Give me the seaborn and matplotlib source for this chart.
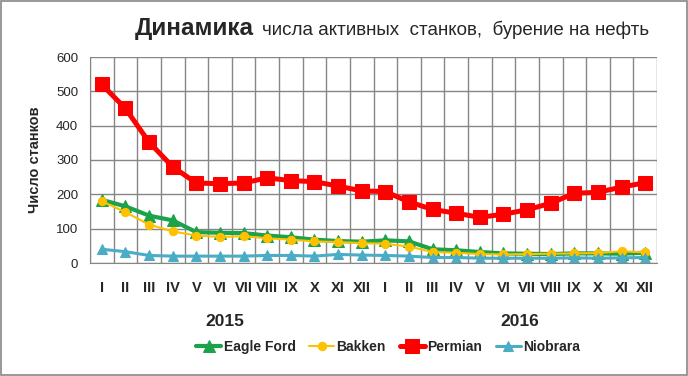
import numpy as np
import pandas as pd
import matplotlib
matplotlib.use('Agg')
import matplotlib.pyplot as plt
import matplotlib.patches as mpatches
import seaborn as sns

months = ['I', 'II', 'III', 'IV', 'V', 'VI', 'VII', 'VIII', 'IX', 'X', 'XI', 'XII',
          'I', 'II', 'III', 'IV', 'V', 'VI', 'VII', 'VIII', 'IX', 'X', 'XI', 'XII']
years = ['2015', '2016']

eagle_ford = [184, 165, 138, 124, 90, 88, 87, 80, 75, 68, 64, 62,
              66, 63, 40, 37, 32, 28, 27, 26, 28, 28, 27, 30]
bakken = [180, 148, 112, 92, 80, 76, 78, 72, 68, 63, 61, 58,
          56, 48, 32, 30, 26, 25, 26, 27, 28, 29, 34, 31]
permian = [520, 450, 352, 280, 233, 231, 233, 248, 240, 237, 224, 210,
           208, 178, 156, 145, 133, 142, 155, 174, 203, 206, 221, 234]
niobrara = [40, 33, 22, 20, 20, 20, 20, 22, 22, 20, 25, 23,
            22, 20, 16, 16, 14, 14, 14, 14, 15, 14, 15, 16]

series = [
    ('Eagle Ford', eagle_ford, '#1BA24B', '^', 8, 3.0),
    ('Bakken', bakken, '#FFC000', 'o', 6, 1.5),
    ('Permian', permian, '#FF0000', 's', 10, 3.6),
    ('Niobrara', niobrara, '#4BACC6', '^', 7, 2.2),
]

sns.set_style('white')
plt.rcParams['font.family'] = ['Liberation Sans', 'DejaVu Sans']

fig = plt.figure(figsize=(6.88, 3.76), dpi=100)
ax = fig.add_axes([90 / 688, 1 - 263 / 376, 567 / 688, 206 / 376])

x = np.arange(len(months))
for name, vals, color, mk, ms, lw in series:
    sns.lineplot(x=x, y=vals, ax=ax, color=color, marker=mk, markersize=ms,
                 markeredgecolor=color, linewidth=lw, label=name)

ax.set_xlim(-0.5, len(months) - 0.5)
ax.set_ylim(0, 600)
ax.set_yticks(range(0, 601, 100))
ax.set_xticks(x)
ax.set_xticklabels(months, fontsize=10.5, fontweight='bold')
ax.set_xticks(np.arange(-0.5, len(months), 1), minor=True)
ax.tick_params(axis='x', which='major', length=0, pad=13)
ax.tick_params(axis='x', which='minor', length=5, color='#868686', direction='out')
ax.tick_params(axis='y', length=5, color='#868686', direction='out', labelsize=9.5)
ax.grid(True, which='minor', axis='x', color='#868686', linewidth=1)
ax.grid(True, which='major', axis='y', color='#868686', linewidth=1)
ax.set_axisbelow(True)
for s in ['top', 'right']:
    ax.spines[s].set_visible(False)
for s in ['left', 'bottom']:
    ax.spines[s].set_color('#868686')
ax.set_ylabel('Число станков', fontsize=10.5, fontweight='bold', labelpad=10)
ax.set_xlabel('')
ax.get_legend().remove()

fig.text(225 / 688, 1 - 322 / 376, years[0], fontsize=12.5, fontweight='bold', ha='center', va='center')
fig.text(520 / 688, 1 - 322 / 376, years[1], fontsize=12.5, fontweight='bold', ha='center', va='center')

fig.text(135 / 688, 1 - 29 / 376, 'Динамика', fontsize=17.5, fontweight='bold', ha='left', va='center')
fig.text(262 / 688, 1 - 30 / 376, 'числа активных  станков,  бурение на нефть', fontsize=13.5,
         ha='left', va='center')

handles, labels = ax.get_legend_handles_labels()
fig.legend(handles, labels, loc='center', bbox_to_anchor=(388 / 688, 1 - 347 / 376), ncol=4,
           frameon=False, prop={'weight': 'bold', 'size': 10}, handlelength=1.8,
           handletextpad=0.15, columnspacing=1.0)

fig.patches.append(mpatches.Rectangle((1 / 688, 1 / 376), 686 / 688, 374 / 376, transform=fig.transFigure,
                                      fill=False, edgecolor='#868686', linewidth=1.2))

plt.savefig('out.png', dpi=100)
plt.close()
